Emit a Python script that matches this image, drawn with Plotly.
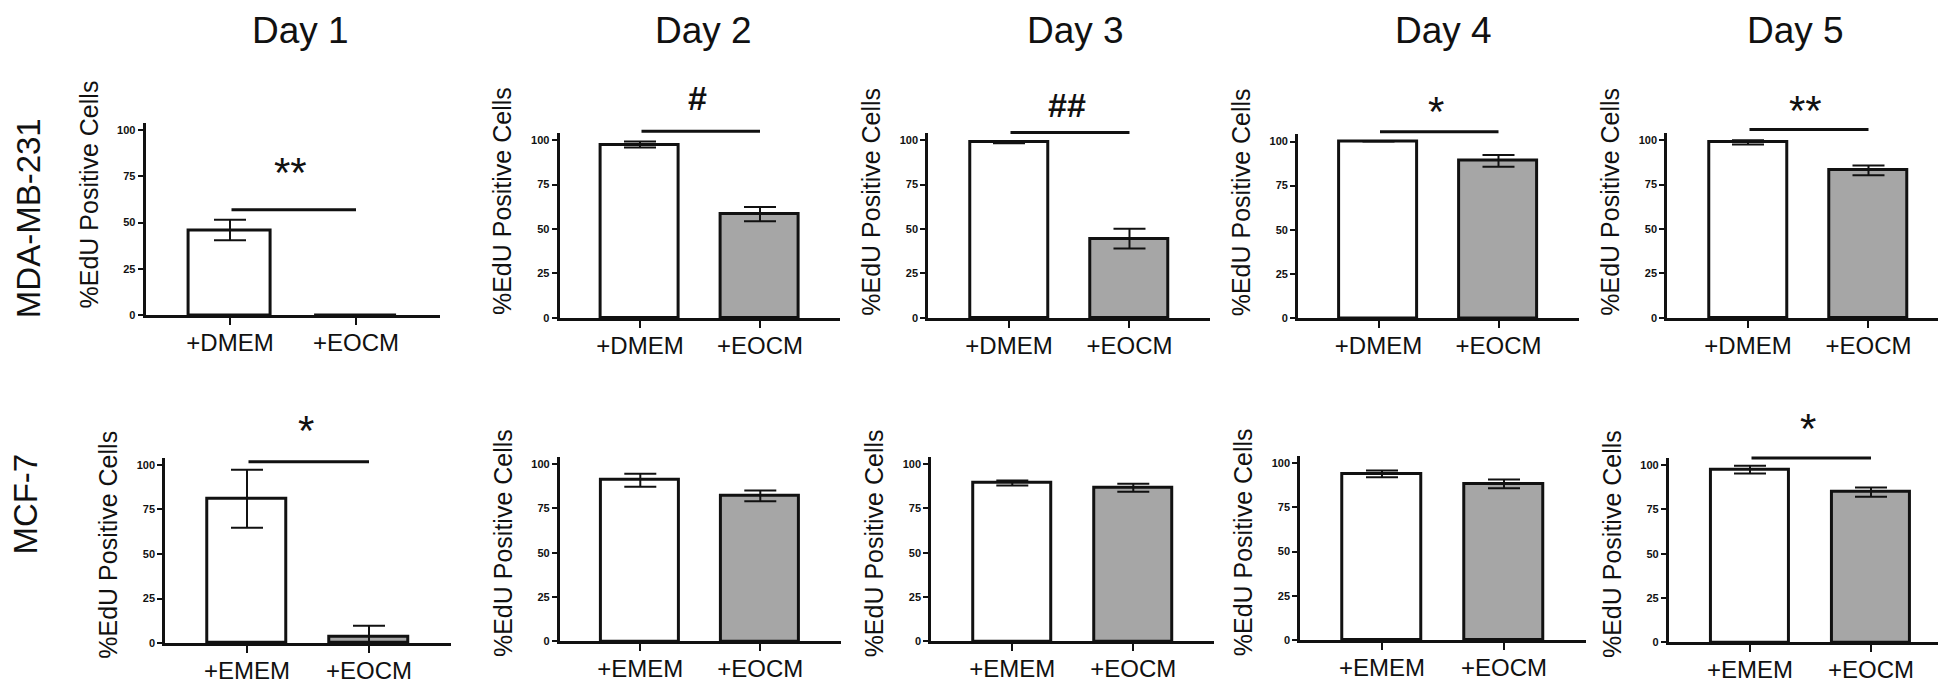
import plotly.graph_objects as go

W, H = 1946, 685

# ---------------- data ----------------
days = ["Day 1", "Day 2", "Day 3", "Day 4", "Day 5"]
cell_lines = ["MDA-MB-231", "MCF-7"]
mda_groups = ["+DMEM", "+EOCM"]
mcf_groups = ["+EMEM", "+EOCM"]

mda_ctrl = [46.0, 97.5, 98.7, 100.0, 98.7]
mda_ctrl_sem = [5.5, 1.7, 0.5, 0.0, 1.2]
mda_eocm = [0.0, 58.4, 44.6, 89.0, 83.0]
mda_eocm_sem = [0.0, 4.0, 5.5, 3.3, 2.8]
mda_sig = ["**", "#", "##", "*", "**"]
mda_sig_y = [57.0, 105.0, 104.3, 105.5, 106.0]       # bracket height
mda_sig_label_y = [76.5, 119.4, 115.2, 116.7, 116.1]  # symbol height

mcf_ctrl = [81.0, 90.8, 89.3, 93.8, 97.4]
mcf_ctrl_sem = [16.3, 3.7, 1.4, 1.9, 2.2]
mcf_eocm = [3.5, 82.0, 86.6, 88.2, 84.7]
mcf_eocm_sem = [6.3, 3.0, 2.2, 2.5, 2.6]
mcf_sig = ["*", "", "", "", "*"]
mcf_sig_y = [101.8, None, None, None, 103.9]
mcf_sig_label_y = [118.6, None, None, None, 120.1]

y_ticks = [0, 25, 50, 75, 100]
bar_colors = ["#ffffff", "#a6a6a6"]

# ---------------- layout geometry (pixels) ----------------
# (first-bar centre x, bar spacing, y of 0, y of 100)
geom = [
    [(222, 126, 310.0, 123.0), (632, 120, 312.7, 133.3), (1001, 120.5, 312.7, 133.3),
     (1370.5, 120, 312.7, 134.7), (1740, 120.5, 312.7, 133.3)],
    [(239, 122, 640.7, 461.0), (632.3, 120, 639.0, 460.0), (1004.3, 121, 639.0, 460.0),
     (1374, 122, 637.7, 459.0), (1742, 121, 640.0, 461.0)],
]
XR = [-0.67, 1.67]
YR = [0, 104]
title_x = [292, 695, 1067, 1435, 1787]
FONT = "Liberation Sans, Arial, sans-serif"
INK = "#111111"


def ydom(v):
    """value -> fraction of the y-axis domain (linear axis starting at YR[0])"""
    return (v - YR[0]) / (YR[1] - YR[0])


rows = [
    (mda_groups, mda_ctrl, mda_ctrl_sem, mda_eocm, mda_eocm_sem, mda_sig, mda_sig_y, mda_sig_label_y),
    (mcf_groups, mcf_ctrl, mcf_ctrl_sem, mcf_eocm, mcf_eocm_sem, mcf_sig, mcf_sig_y, mcf_sig_label_y),
]

fig = go.Figure()
annotations = []
layout_axes = {}

k = 0
for r, (groups, ctrl, ctrl_sem, eocm, eocm_sem, sig, sig_y, sig_ly) in enumerate(rows):
    for d in range(5):
        k += 1
        sfx = "" if k == 1 else str(k)
        c0, sp, y0, y100 = geom[r][d]
        left = c0 + XR[0] * sp
        right = c0 + XR[1] * sp
        ytop = y0 - (YR[1] / 100.0) * (y0 - y100)
        xd = [left / W, right / W]
        yd = [1 - y0 / H, 1 - ytop / H]

        fig.add_trace(go.Bar(
            x=groups, y=[ctrl[d], eocm[d]],
            width=0.65,
            marker=dict(color=bar_colors, line=dict(color=INK, width=3)),
            error_y=dict(type="data", array=[ctrl_sem[d], eocm_sem[d]],
                         color=INK, thickness=2, width=16),
            xaxis="x" + sfx, yaxis="y" + sfx, showlegend=False,
        ))

        layout_axes["xaxis" + sfx] = dict(
            domain=xd, anchor="y" + sfx, type="category", range=XR,
            showline=True, linewidth=3, linecolor=INK,
            ticks="outside", ticklen=7, tickwidth=2, tickcolor=INK,
            tickfont=dict(family=FONT, size=24, color=INK),
            ticklabelstandoff=-3,
            showgrid=False, zeroline=False, fixedrange=True,
        )
        layout_axes["yaxis" + sfx] = dict(
            domain=yd, anchor="x" + sfx, range=YR, tickvals=y_ticks,
            showline=True, linewidth=3, linecolor=INK,
            ticks="outside", ticklen=5, tickwidth=2, tickcolor=INK,
            tickfont=dict(family=FONT, size=11, color=INK, weight="bold"),
            showgrid=False, zeroline=False, fixedrange=True,
        )

        # y-axis title
        annotations.append(dict(
            text="%EdU Positive Cells", textangle=-90,
            xref="x" + sfx + " domain", yref="y" + sfx + " domain",
            x=0, y=0.5, xanchor="center", yanchor="middle",
            xshift=-57, yshift=(24 if r == 0 else 6),
            showarrow=False, font=dict(family=FONT, size=25, color=INK),
        ))

        # significance bar + symbol
        if sig[d]:
            yy = ydom(sig_y[d])
            annotations.append(dict(
                text="", x=1, y=yy, ax=0, ay=yy,
                xref="x" + sfx, yref="y" + sfx + " domain",
                axref="x" + sfx, ayref="y" + sfx + " domain",
                showarrow=True, arrowhead=0, arrowwidth=3, arrowcolor=INK,
                standoff=0, startstandoff=0,
            ))
            is_hash = "#" in sig[d]
            annotations.append(dict(
                text=sig[d], x=0.48, y=ydom(sig_ly[d]),
                xref="x" + sfx, yref="y" + sfx + " domain",
                xanchor="center", yanchor="middle",
                yshift=(8 if is_hash else 1),
                showarrow=False,
                font=dict(family=FONT, size=(34 if is_hash else 42), color=INK,
                          weight=("bold" if is_hash else "normal")),
            ))

# column titles
for d in range(5):
    annotations.append(dict(
        text=days[d], xref="paper", yref="paper",
        x=title_x[d] / W, y=1, xanchor="center", yanchor="top",
        showarrow=False, font=dict(family=FONT, size=37, color=INK),
    ))

# row labels
row_label_pos = [(20, 212), (18, 501)]
for r in range(2):
    px, py = row_label_pos[r]
    annotations.append(dict(
        text=cell_lines[r], textangle=-90, xref="paper", yref="paper",
        x=px / W, y=1 - py / H, xanchor="center", yanchor="middle",
        showarrow=False, font=dict(family=FONT, size=33, color=INK),
    ))

fig.update_layout(
    width=W, height=H, autosize=False,
    margin=dict(l=0, r=0, t=0, b=0),
    paper_bgcolor="white", plot_bgcolor="white",
    bargap=0, annotations=annotations, showlegend=False,
    **layout_axes,
)

fig.write_html("out.html")
